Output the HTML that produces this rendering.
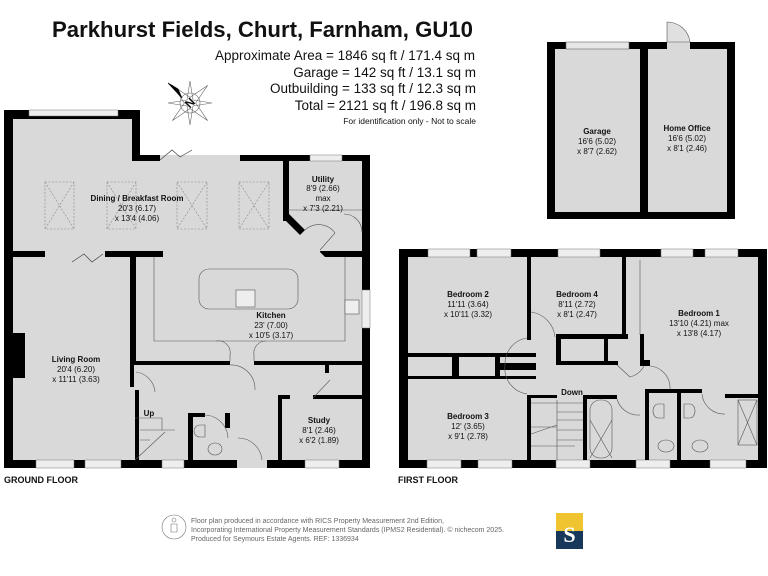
<!DOCTYPE html>
<html><head><meta charset="utf-8"><style>
html,body{margin:0;padding:0;background:#fff}
svg{display:block}
text{font-family:"Liberation Sans",Arial,sans-serif;fill:#111}
.rn{font-size:8px;font-weight:bold;text-anchor:middle}
.rd{font-size:8px;text-anchor:middle}
</style></head><body>
<svg width="768" height="576" viewBox="0 0 768 576" xmlns="http://www.w3.org/2000/svg">
<rect width="768" height="576" fill="#fff"/>
<!-- Title -->
<text x="52" y="37" font-size="22" font-weight="bold" textLength="421" lengthAdjust="spacingAndGlyphs">Parkhurst Fields, Churt, Farnham, GU10</text>
<g font-size="13.5" text-anchor="end">
<text x="475" y="60">Approximate Area = 1846 sq ft / 171.4 sq m</text>
<text x="476" y="77">Garage = 142 sq ft / 13.1 sq m</text>
<text x="476" y="93">Outbuilding = 133 sq ft / 12.3 sq m</text>
<text x="476" y="110">Total = 2121 sq ft / 196.8 sq m</text>
<text x="476" y="124" font-size="8.5">For identification only - Not to scale</text>
</g>
<!-- compass -->
<g transform="translate(190,103)" stroke="#666" stroke-width="0.6" fill="none">
<circle r="10"/>
<path d="M0,-25 L4,-4 L25,0 L4,4 L0,25 L-4,4 L-25,0 L-4,-4 Z" transform="rotate(45)"/>
<path d="M0,-22 L3,-3 L22,0 L3,3 L0,22 L-3,3 L-22,0 L-3,-3 Z"/>
<path d="M-22,-20 L-8,-5 L-12,-14 Z" fill="#000" stroke="#000"/>
<text x="0" y="4" font-size="12" font-weight="bold" text-anchor="middle" transform="rotate(-45)" fill="#000" stroke="none">N</text>
</g>

<!-- ===== Outbuilding ===== -->
<rect x="547" y="42" width="188" height="177" fill="#000"/>
<rect x="555" y="49" width="85" height="163" fill="#d9d9d9"/>
<rect x="648" y="49" width="79" height="163" fill="#d9d9d9"/>
<rect x="566" y="42" width="63" height="7" fill="#e6e6e6" stroke="#666" stroke-width="0.6"/>
<rect x="667" y="42" width="23" height="7" fill="#d9d9d9"/>
<path d="M667,42 L667,22 A23,23 0 0 1 690,42 Z" fill="#e0e0e0" stroke="#555" stroke-width="0.6"/>
<text class="rn" x="597" y="134">Garage</text>
<text class="rd" x="597" y="144">16'6 (5.02)</text>
<text class="rd" x="597" y="154">x 8'7 (2.62)</text>
<text class="rn" x="687" y="131" font-size="7.5">Home Office</text>
<text class="rd" x="687" y="141">16'6 (5.02)</text>
<text class="rd" x="687" y="151">x 8'1 (2.46)</text>

<!-- ===== Ground floor ===== -->
<path d="M4,110 H140 V155 H370 V468 H4 Z" fill="#000"/>
<path d="M13,119 H132 V161 H362 V460 H13 Z" fill="#d9d9d9"/>
<!-- windows -->
<rect x="29" y="110" width="89" height="6" fill="#eee" stroke="#777" stroke-width="0.5"/>
<rect x="160" y="155" width="80" height="6" fill="#d9d9d9"/>
<rect x="310" y="155" width="32" height="6" fill="#eee" stroke="#777" stroke-width="0.5"/>
<rect x="362" y="290" width="8" height="38" fill="#eee" stroke="#777" stroke-width="0.5"/>
<rect x="36" y="460" width="38" height="8" fill="#eee" stroke="#777" stroke-width="0.5"/>
<rect x="85" y="460" width="36" height="8" fill="#eee" stroke="#777" stroke-width="0.5"/>
<rect x="162" y="460" width="22" height="8" fill="#eee" stroke="#777" stroke-width="0.5"/>
<rect x="237" y="460" width="30" height="8" fill="#d9d9d9"/>
<rect x="305" y="460" width="34" height="8" fill="#eee" stroke="#777" stroke-width="0.5"/>
<!-- bifold -->
<path d="M160,160 L172,150 L180,157 L192,150" stroke="#444" fill="none" stroke-width="0.7"/>
<path d="M72,262 L84,254 L92,262 L103,254" stroke="#444" fill="none" stroke-width="0.7"/>
<!-- skylights -->
<g fill="none" stroke="#888" stroke-width="0.6" stroke-dasharray="2,1.5">
<rect x="45" y="182" width="29" height="47"/><rect x="107" y="182" width="29" height="47"/>
<rect x="177" y="182" width="30" height="47"/><rect x="239" y="182" width="30" height="47"/>
<path d="M45,182 L74,229 M74,182 L45,229 M107,182 L136,229 M136,182 L107,229 M177,182 L207,229 M207,182 L177,229 M239,182 L269,229 M269,182 L239,229"/>
</g>
<!-- internal walls -->
<g fill="#000">
<rect x="13" y="251" width="32" height="6"/>
<rect x="105" y="251" width="58" height="6"/>
<rect x="130" y="257" width="6" height="108"/>
<rect x="130" y="361" width="100" height="4"/>
<rect x="254" y="361" width="108" height="4"/>
<rect x="283" y="161" width="6" height="60"/>
<path d="M283,218 L300,235 L305,230 L289,214 Z"/>
<path d="M320,251 L362,251 L362,257 L325,257 L320,252 Z"/>
<rect x="13" y="333" width="12" height="45"/>
<rect x="278" y="395" width="12" height="4"/>
<rect x="313" y="395" width="49" height="4"/>
<rect x="278" y="395" width="4" height="65"/>
<rect x="325" y="365" width="4" height="8"/>
<rect x="130" y="365" width="4" height="22"/>
<rect x="135" y="390" width="4" height="70"/>
<rect x="188" y="413" width="5" height="47"/>
<rect x="188" y="413" width="17" height="4"/>
<rect x="225" y="413" width="5" height="15"/>
</g>
<!-- utility thin lines & door -->
<g fill="none" stroke="#555" stroke-width="0.6">
<path d="M288,210 H362"/>
<path d="M344,214 A18,18 0 0 1 362,232"/>
<path d="M305,230 A20,20 0 0 1 335,233 L320,250"/>
<path d="M154,257 V341 H345 V257"/>
<rect x="199" y="269" width="99" height="40" rx="10"/>
<path d="M216,341 A12,12 0 0 1 230,355 V361 M254,361 V355 A12,12 0 0 1 266,341"/>
<path d="M230,365 A24,24 0 0 1 255,390"/>
<path d="M136,372 A22,22 0 0 1 155,392"/>
<path d="M313,398 L330,380"/>
<path d="M204,415 A24,24 0 0 1 228,438 M238,438 A24,24 0 0 1 262,460"/>
<path d="M135,418 H162 V430 H175 M135,460 L165,432 M140,430 H162 M140,440 H150"/>
<ellipse cx="215" cy="449" rx="7" ry="6"/>
<path d="M200,425 h5 v12 h-5 a6,6 0 0 1 0,-12"/>
</g>
<rect x="236" y="290" width="19" height="17" fill="#eee" stroke="#555" stroke-width="0.6"/>
<rect x="345" y="300" width="14" height="14" fill="#eee" stroke="#555" stroke-width="0.6"/>
<text class="rn" x="137" y="201">Dining  / Breakfast Room</text>
<text class="rd" x="137" y="211">20'3 (6.17)</text>
<text class="rd" x="137" y="221">x 13'4 (4.06)</text>
<text class="rn" x="323" y="182">Utility</text>
<text class="rd" x="323" y="191">8'9 (2.66)</text>
<text class="rd" x="323" y="201">max</text>
<text class="rd" x="323" y="211">x 7'3 (2.21)</text>
<text class="rn" x="271" y="318">Kitchen</text>
<text class="rd" x="271" y="328">23' (7.00)</text>
<text class="rd" x="271" y="338">x 10'5 (3.17)</text>
<text class="rn" x="76" y="362">Living Room</text>
<text class="rd" x="76" y="372">20'4 (6.20)</text>
<text class="rd" x="76" y="382">x 11'11 (3.63)</text>
<text class="rn" x="319" y="423">Study</text>
<text class="rd" x="319" y="433">8'1 (2.46)</text>
<text class="rd" x="319" y="443">x 6'2 (1.89)</text>
<text class="rn" x="149" y="416" font-size="7">Up</text>
<text x="4" y="483" font-size="9" font-weight="bold">GROUND FLOOR</text>

<!-- ===== First floor ===== -->
<rect x="399" y="249" width="368" height="219" fill="#000"/>
<rect x="408" y="257" width="350" height="203" fill="#d9d9d9"/>
<g fill="#eee" stroke="#777" stroke-width="0.5">
<rect x="428" y="249" width="42" height="8"/><rect x="477" y="249" width="34" height="8"/>
<rect x="558" y="249" width="42" height="8"/><rect x="661" y="249" width="32" height="8"/>
<rect x="705" y="249" width="33" height="8"/>
<rect x="427" y="460" width="34" height="8"/><rect x="478" y="460" width="34" height="8"/>
<rect x="556" y="460" width="34" height="8"/><rect x="636" y="460" width="34" height="8"/>
<rect x="710" y="460" width="36" height="8"/>
</g>
<g fill="#000">
<rect x="527" y="257" width="4" height="83"/>
<rect x="622" y="257" width="4" height="80"/>
<rect x="408" y="353" width="128" height="4"/>
<rect x="408" y="376" width="128" height="3"/>
<rect x="452" y="353" width="7" height="26"/>
<rect x="495" y="353" width="5" height="26"/>
<rect x="500" y="363" width="36" height="7"/>
<rect x="556" y="334" width="72" height="5"/>
<rect x="556" y="334" width="5" height="30"/>
<rect x="556" y="361" width="62" height="4"/>
<rect x="604" y="334" width="4" height="31"/>
<rect x="640" y="334" width="4" height="32"/>
<rect x="640" y="360" width="10" height="6"/>
<rect x="527" y="395" width="4" height="65"/>
<rect x="527" y="395" width="30" height="3"/>
<rect x="583" y="395" width="34" height="4"/>
<rect x="583" y="395" width="4" height="65"/>
<rect x="645" y="389" width="4" height="71"/>
<rect x="645" y="389" width="57" height="4"/>
<rect x="677" y="393" width="4" height="67"/>
<rect x="725" y="394" width="33" height="4"/>
</g>
<g fill="none" stroke="#555" stroke-width="0.6">
<path d="M640,260 V335"/>
<path d="M531,312 A28,28 0 0 1 555,337"/>
<path d="M527,338 A26,26 0 0 0 505,365 A26,26 0 0 0 527,394"/>
<path d="M617,365 L630,377 A22,22 0 0 0 644,366"/>
<path d="M650,366 A22,22 0 0 1 670,389"/>
<path d="M617,399 A22,22 0 0 0 640,415"/>
<path d="M702,394 A22,22 0 0 0 725,414"/>
<path d="M531,403 H583 M557,400 V460 M531,427 H557 M531,434 L557,425 M531,446 H575 M557,412 H583 M557,420 H583 M557,430 H583 M557,440 H583"/>
<rect x="590" y="400" width="22" height="58" rx="10"/>
<path d="M590,420 L612,458 M612,420 L590,458"/>
<path d="M664,404 h-6 a5,7 0 0 0 0,14 h6 z M684,404 h6 a5,7 0 0 1 0,14 h-6 z"/>
<ellipse cx="666" cy="446" rx="8" ry="6"/><ellipse cx="700" cy="446" rx="8" ry="6"/>
<rect x="738" y="400" width="19" height="45"/>
<path d="M738,400 L757,445 M757,400 L738,445"/>
</g>
<text class="rn" x="468" y="297">Bedroom 2</text>
<text class="rd" x="468" y="307">11'11 (3.64)</text>
<text class="rd" x="468" y="317">x 10'11 (3.32)</text>
<text class="rn" x="577" y="297">Bedroom 4</text>
<text class="rd" x="577" y="307">8'11 (2.72)</text>
<text class="rd" x="577" y="317">x 8'1 (2.47)</text>
<text class="rn" x="699" y="316">Bedroom 1</text>
<text class="rd" x="699" y="326">13'10 (4.21) max</text>
<text class="rd" x="699" y="336">x 13'8 (4.17)</text>
<text class="rn" x="468" y="419">Bedroom 3</text>
<text class="rd" x="468" y="429">12' (3.65)</text>
<text class="rd" x="468" y="439">x 9'1 (2.78)</text>
<text class="rn" x="572" y="395" font-size="7">Down</text>
<text x="398" y="483" font-size="9" font-weight="bold">FIRST FLOOR</text>

<!-- footer -->
<g fill="none" stroke="#777" stroke-width="0.6">
<circle cx="174" cy="527" r="12"/>
<circle cx="174" cy="520" r="2"/>
<path d="M171,524 h6 v8 h-6 z"/>
</g>
<g font-size="7" fill="#666">
<text x="191" y="523" style="fill:#666">Floor plan produced in accordance with RICS Property Measurement 2nd Edition,</text>
<text x="191" y="532" style="fill:#666">Incorporating International Property Measurement Standards (IPMS2 Residential).   © nichecom 2025.</text>
<text x="191" y="541" style="fill:#666">Produced for Seymours Estate Agents.   REF: 1336934</text>
</g>
<rect x="556" y="513" width="27" height="18" fill="#f0c330"/>
<rect x="556" y="531" width="27" height="18" fill="#17385a"/>
<text x="569.5" y="542" font-size="22" font-family="Liberation Serif" font-weight="bold" text-anchor="middle" style="fill:#fff;font-family:'Liberation Serif',serif">S</text>
</svg>
</body></html>
